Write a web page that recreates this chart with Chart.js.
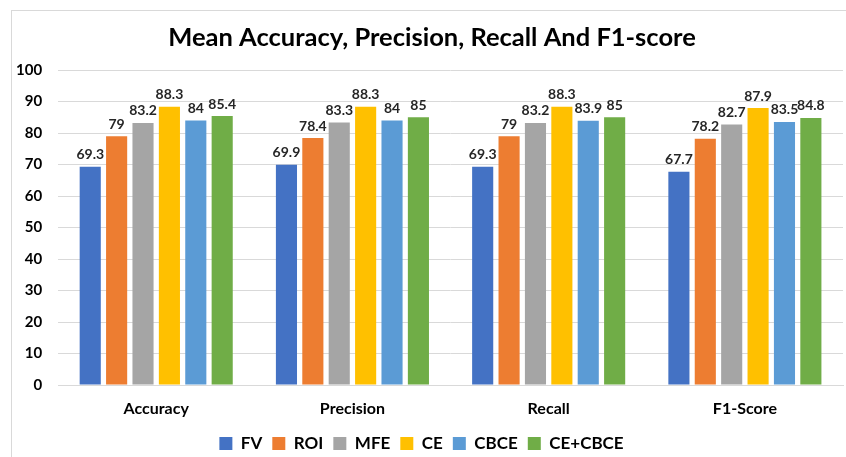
<!DOCTYPE html>
<html>
<head>
<meta charset="utf-8">
<script src="https://cdn.jsdelivr.net/npm/chart.js@4/dist/chart.umd.min.js"></script>
<style>
  html, body { margin: 0; padding: 0; background: #fff; }
  #wrap { position: relative; width: 846px; height: 457px; }
  #frame { position: absolute; left: 11px; top: 10px; width: 840px; height: 460px; border: 1px solid #d9d9d9; box-sizing: border-box; }
  canvas { position: absolute; left: 0; top: 0; }
</style>
</head>
<body>
<div id="wrap">
  <div id="frame"></div>
  <canvas id="chart" width="846" height="457"></canvas>
</div>
<script>
// Données du graphique
const categories = ['Accuracy', 'Precision', 'Recall', 'F1-Score'];
const seriesNames = ['FV', 'ROI', 'MFE', 'CE', 'CBCE', 'CE+CBCE'];
const fvValues = [69.3, 69.9, 69.3, 67.7];
const roiValues = [79, 78.4, 79, 78.2];
const mfeValues = [83.2, 83.3, 83.2, 82.7];
const ceValues = [88.3, 88.3, 88.3, 87.9];
const cbceValues = [84, 84, 83.9, 83.5];
const ceCbceValues = [85.4, 85, 85, 84.8];
const yTicks = [0, 10, 20, 30, 40, 50, 60, 70, 80, 90, 100];
const chartTitle = 'Mean Accuracy, Precision, Recall And F1-score';

const colors = ['#4472C4', '#ED7D31', '#A5A5A5', '#FFC000', '#5B9BD5', '#70AD47'];
const allValues = [fvValues, roiValues, mfeValues, ceValues, cbceValues, ceCbceValues];
const fontFamily = 'Lato, "Open Sans", sans-serif';

// Étiquettes de valeur au-dessus des barres + titre centré sur le cadre
const valueLabels = {
    id: 'valueLabels',
    afterDatasetsDraw(chart) {
        const ctx = chart.ctx;
        ctx.save();
        ctx.font = 'bold 14px ' + fontFamily;
        ctx.fillStyle = '#262626';
        ctx.textAlign = 'center';
        ctx.textBaseline = 'bottom';
        chart.data.datasets.forEach(function (ds, i) {
            chart.getDatasetMeta(i).data.forEach(function (bar, j) {
                ctx.fillText(String(ds.data[j]), bar.x, bar.y - 5);
            });
        });
        ctx.font = 'bold 25.5px ' + fontFamily;
        ctx.fillStyle = '#000';
        ctx.textBaseline = 'middle';
        ctx.fillText(chartTitle, 432, 38);
        ctx.restore();
    }
};

const ctx = document.getElementById('chart').getContext('2d');
new Chart(ctx, {
    type: 'bar',
    data: {
        labels: categories,
        datasets: seriesNames.map(function (name, i) {
            return {
                label: name,
                data: allValues[i],
                backgroundColor: colors[i],
                borderWidth: 0,
                categoryPercentage: 0.807,
                barPercentage: 0.8,
            };
        }),
    },
    options: {
        responsive: false,
        animation: false,
        layout: { padding: { left: 0, right: 3, top: 70, bottom: -5 } },
        plugins: {
            legend: {
                position: 'bottom',
                labels: {
                    boxWidth: 13,
                    boxHeight: 13,
                    color: '#000',
                    padding: 10,
                    font: { family: fontFamily, size: 17, weight: 'bold' },
                },
            },
            tooltip: { enabled: false },
        },
        scales: {
            x: {
                grid: { display: false, drawTicks: false },
                border: { color: '#d9d9d9' },
                ticks: {
                    color: '#000',
                    padding: 14,
                    font: { family: fontFamily, size: 16, weight: 'bold' },
                },
                afterFit(axis) {
                    axis.height = 40;
                },
            },
            y: {
                min: 0,
                max: 100,
                afterBuildTicks(axis) {
                    axis.ticks = yTicks.map(function (v) { return { value: v }; });
                },
                grid: { color: '#d9d9d9', drawTicks: false },
                border: { display: false },
                ticks: {
                    color: '#000',
                    padding: 16,
                    font: { family: fontFamily, size: 15, weight: 'bold' },
                },
            },
        },
    },
    plugins: [valueLabels],
});
</script>
</body>
</html>
